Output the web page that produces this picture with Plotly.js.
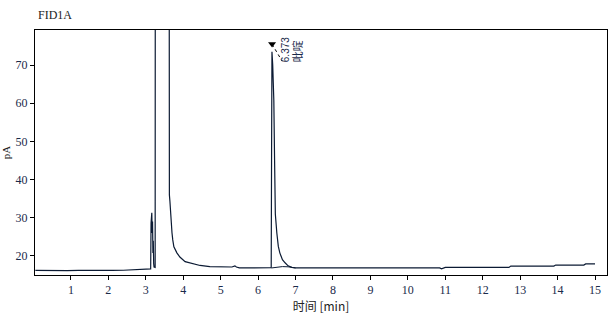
<!DOCTYPE html>
<html>
<head>
<meta charset="utf-8">
<script src="https://cdn.plot.ly/plotly-3.0.1.min.js"></script>
<style>html,body{margin:0;padding:0;background:#fff;}#chart{width:614px;height:318px;}</style>
</head>
<body>
<div id="chart"></div>
<script>
// Chromatogram signal (time in min, signal in pA)
const timeMin = [0.05,0.3,0.6,0.9,1.2,1.5,1.8,2.1,2.4,2.7,2.8,2.9,3.0,3.1,3.13,3.14,3.16,3.17,3.18,3.19,3.2,3.21,3.22,3.25,3.265,3.6,3.61,3.62,3.63,3.645,3.67,3.7,3.72,3.75,3.83,3.91,4.05,4.18,4.45,4.71,4.98,5.3,5.38,5.42,5.5,5.8,6.1,6.35,6.36,6.365,6.37,6.39,6.42,6.44,6.46,6.5,6.54,6.58,6.65,6.72,6.8,6.9,7.0,8.0,9.0,10.0,10.85,10.9,10.95,11.0,12.0,12.7,12.75,13.9,13.95,14.7,14.75,15.0];
const signalPA = [16.2,16.15,16.2,16.15,16.2,16.15,16.2,16.2,16.25,16.4,16.5,16.4,16.5,16.6,16.6,28.6,31.3,26,29,20.8,24,18,17.1,17.0,400,400,45.6,40,36,34.2,29.4,26,24.2,22.4,20.8,19.7,18.5,18.2,17.5,17.2,17.1,17.1,17.4,17.1,16.85,16.85,16.85,16.9,48,73.5,73.5,70,60.8,45,31,26,22.5,20.8,19,18.2,17.4,17.0,16.85,16.85,16.85,16.85,16.85,16.6,16.85,17.0,17.0,17.0,17.35,17.35,17.6,17.6,17.9,17.9];
// Integration baseline under the main peak
const baseTime = [6.36,6.5,6.65,6.8,7.0];
const baseSignal = [16.85,17.0,17.2,17.15,16.85];
// Peak labels
const peakTimes = [6.373];
const peakHeights = [73.5];
const peakLabels = ['6.373'];
const peakNames = ['吡啶'];
const xTicks = [1,2,3,4,5,6,7,8,9,10,11,12,13,14,15];
const yTicks = [20,30,40,50,60,70];

const lineColor = '#0b1a33';
const tickFont = {family: '"Liberation Serif", "DejaVu Serif", serif', size: 12, color: '#1a2a4a'};

const traces = [
  {x: timeMin, y: signalPA, type: 'scatter', mode: 'lines', line: {color: lineColor, width: 1.2}, hoverinfo: 'none'},
  {x: baseTime, y: baseSignal, type: 'scatter', mode: 'lines', line: {color: lineColor, width: 1}, hoverinfo: 'none'},
  {x: peakTimes, y: peakHeights.map(h => h + 2), type: 'scatter', mode: 'markers',
   marker: {symbol: 'triangle-down', size: 7, color: '#000'}, hoverinfo: 'none'}
];

const annotations = [];
const shapes = [];
peakTimes.forEach((t, i) => {
  annotations.push({x: t, y: peakHeights[i] + 2, xref: 'x', yref: 'y', text: peakLabels[i], showarrow: false,
    textangle: -90, xanchor: 'left', yanchor: 'bottom', xshift: 6, yshift: -20,
    font: {family: '"Liberation Sans", Arial, sans-serif', size: 10, color: '#1a2a4a'}});
  annotations.push({x: t, y: peakHeights[i] + 2, xref: 'x', yref: 'y', text: peakNames[i], showarrow: false,
    textangle: -90, xanchor: 'left', yanchor: 'bottom', xshift: 15, yshift: -20,
    font: {family: '"Noto Sans CJK SC", sans-serif', size: 11, color: '#1a2a4a'}});
  shapes.push({type: 'line', xref: 'x', yref: 'y', x0: t, y0: peakHeights[i] + 2, x1: t + 0.27, y1: peakHeights[i] - 2.5,
    line: {color: '#000', width: 1, dash: 'dot'}});
});

const layout = {
  width: 614, height: 318,
  margin: {l: 35, r: 7, t: 30, b: 43},
  paper_bgcolor: '#fff', plot_bgcolor: '#fff',
  showlegend: false,
  title: {text: 'FID1A', x: 38/614, xanchor: 'left', y: 1 - 15/318, yanchor: 'middle',
    font: {family: '"Liberation Serif", "DejaVu Serif", serif', size: 12, color: '#222'}},
  xaxis: {range: [0.04, 15.32], tickvals: xTicks, ticktext: xTicks.map(String), ticks: 'outside', ticklen: 4,
    tickcolor: '#000', showline: true, linecolor: '#000', linewidth: 1, mirror: true, showgrid: false, zeroline: false,
    tickfont: tickFont,
    title: {text: '时间 [min]', standoff: 6, font: {family: '"Noto Sans CJK SC", sans-serif', size: 12, color: '#222'}}},
  yaxis: {range: [15.0, 79.2], tickvals: yTicks, ticktext: yTicks.map(String), ticks: 'outside', ticklen: 4,
    tickcolor: '#000', showline: true, linecolor: '#000', linewidth: 1, mirror: true, showgrid: false, zeroline: false,
    tickfont: tickFont,
    title: {text: 'pA', standoff: 6, font: {family: '"Liberation Serif", "DejaVu Serif", serif', size: 11, color: '#222'}}},
  annotations: annotations,
  shapes: shapes
};

Plotly.newPlot('chart', traces, layout, {displayModeBar: false, staticPlot: true});
</script>
</body>
</html>
